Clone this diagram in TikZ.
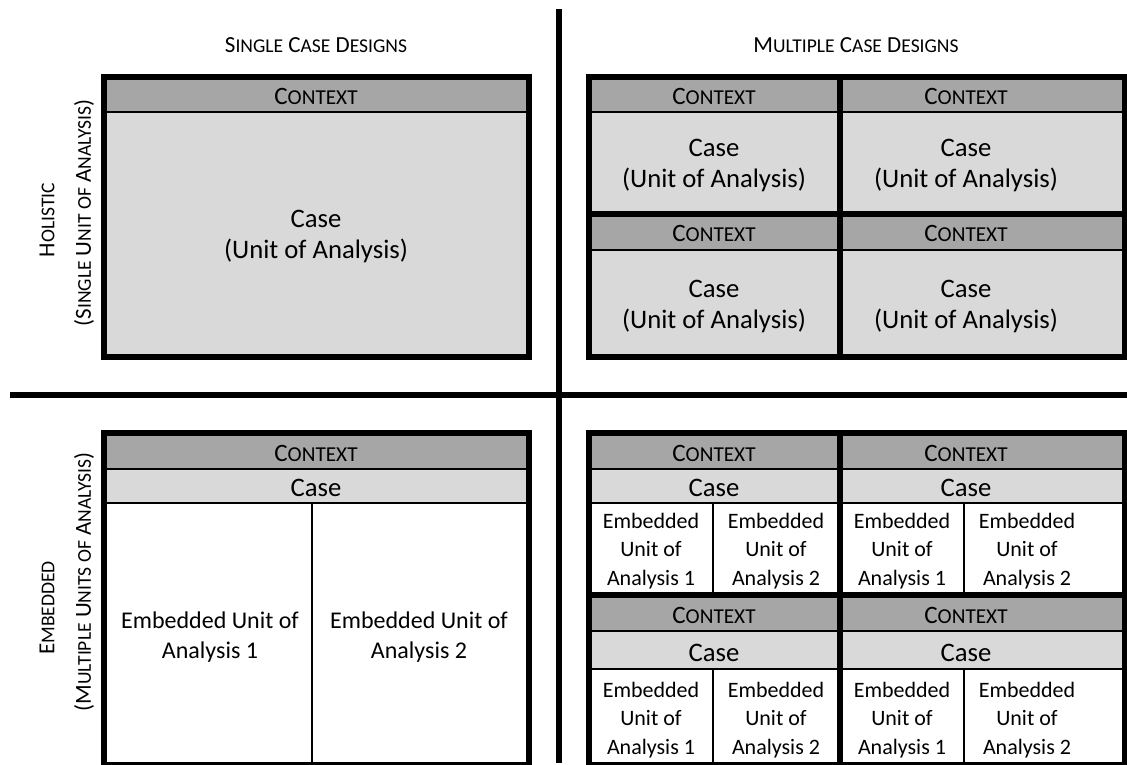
\documentclass[tikz,border=0pt]{standalone}
\usepackage{fontspec}
\setmainfont{Carlito}
\definecolor{ctxgray}{HTML}{A6A6A6}
\definecolor{casegray}{HTML}{D9D9D9}
\makeatletter
% faked small capitals: the rest of the word in smaller upper-case letters
\newcommand\lowcap[1]{{\fontsize{\the\dimexpr\f@size pt*85/100\relax}{\f@baselineskip}\selectfont #1}}
\makeatother
\tikzset{
  frame/.style={draw=black, line width=6pt},
  divider/.style={draw=black, line width=6pt},
  thin/.style={draw=black, line width=2pt},
  ctxfill/.style={fill=ctxgray},
  casefill/.style={fill=casegray},
  head/.style={font=\fontsize{23}{27}\selectfont, inner sep=0pt},
  side/.style={font=\fontsize{23}{27}\selectfont, inner sep=0pt, rotate=90},
  ctxtext/.style={font=\fontsize{25}{29}\selectfont, inner sep=0pt},
  casetext/.style={font=\fontsize{26.7}{31}\selectfont, inner sep=0pt, align=center},
  bigemb/.style={font=\fontsize{24}{30}\selectfont, inner sep=0pt, align=center},
  smallemb/.style={font=\fontsize{22}{28.5}\selectfont, inner sep=0pt, align=center},
}
\begin{document}
\begin{tikzpicture}[x=1pt, y=-1pt]
\useasboundingbox (0,0) rectangle (1127,765);

% ---------- quadrant dividers ----------
\coordinate (vtop) at (559,9);
\coordinate (vbot) at (559,763);
\coordinate (hleft) at (10,395);
\coordinate (hright) at (1127,395);
\draw[divider] (vtop) -- (vbot);
\draw[divider] (hleft) -- (hright);

% ---------- headers ----------
\node[head] (hsingle) at (316,45) {S\lowcap{INGLE} C\lowcap{ASE} D\lowcap{ESIGNS}};
\node[head] (hmultiple) at (856,45) {M\lowcap{ULTIPLE} C\lowcap{ASE} D\lowcap{ESIGNS}};
\node[side] (sholistic) at (47,220) {H\lowcap{OLISTIC}};
\node[side] (sholisticsub) at (84,213) {(S\lowcap{INGLE} U\lowcap{NIT OF} A\lowcap{NALYSIS})};
\node[side] (sembedded) at (47,608) {E\lowcap{MBEDDED}};
\node[side] (sembeddedsub) at (84,582) {(M\lowcap{ULTIPLE} U\lowcap{NITS OF} A\lowcap{NALYSIS})};

% ---------- holistic, single case ----------
\fill[ctxfill] (104,77) rectangle (529,112);
\fill[casefill] (104,112) rectangle (529,357);
\draw[thin] (107,112) -- (526,112);
\draw[frame] (104,77) rectangle (529,357);
\node[ctxtext] (c1) at (316,96) {C\lowcap{ONTEXT}};
\node[casetext] (u1) at (316,236) {Case\\(Unit of Analysis)};

% ---------- holistic, multiple cases ----------
\foreach \xa/\xb in {588.5/839.5, 839.5/1125}{
  \foreach \ya/\yb/\yc in {77/112/213.5, 213.5/250/357}{
    \fill[ctxfill] (\xa,\ya) rectangle (\xb,\yb);
    \fill[casefill] (\xa,\yb) rectangle (\xb,\yc);
    \draw[thin] (\xa,\yb) -- (\xb,\yb);
  }
}
\draw[frame] (588.5,77) rectangle (1125,357);
\draw[divider] (839.5,77) -- (839.5,357);
\draw[divider] (588.5,213.5) -- (1125,213.5);
\node[ctxtext] (c2) at (714,96) {C\lowcap{ONTEXT}};
\node[ctxtext] (c3) at (966,96) {C\lowcap{ONTEXT}};
\node[ctxtext] (c4) at (714,233.5) {C\lowcap{ONTEXT}};
\node[ctxtext] (c5) at (966,233.5) {C\lowcap{ONTEXT}};
\node[casetext] (u2) at (714,165) {Case\\(Unit of Analysis)};
\node[casetext] (u3) at (966,165) {Case\\(Unit of Analysis)};
\node[casetext] (u4) at (714,306) {Case\\(Unit of Analysis)};
\node[casetext] (u5) at (966,306) {Case\\(Unit of Analysis)};

% ---------- embedded, single case ----------
\fill[ctxfill] (104,433) rectangle (529,469);
\fill[casefill] (104,469) rectangle (529,503);
\draw[thin] (107,469) -- (526,469);
\draw[thin] (107,503) -- (526,503);
\draw[thin] (312,503) -- (312,762);
\draw[frame] (104,433) rectangle (529,765);
\node[ctxtext] (c6) at (316,453) {C\lowcap{ONTEXT}};
\node[casetext] (k6) at (316,488) {Case};
\node[bigemb] (e61) at (210,637) {Embedded Unit of\\Analysis 1};
\node[bigemb] (e62) at (419,637) {Embedded Unit of\\Analysis 2};

% ---------- embedded, multiple cases ----------
\foreach \xa/\xb/\xm in {588.5/839.5/713, 839.5/1125/964}{
  \foreach \ya/\yb/\yc/\yd in {433/469/503/595, 595/631/669/765}{
    \fill[ctxfill] (\xa,\ya) rectangle (\xb,\yb);
    \fill[casefill] (\xa,\yb) rectangle (\xb,\yc);
    \draw[thin] (\xa,\yb) -- (\xb,\yb);
    \draw[thin] (\xa,\yc) -- (\xb,\yc);
    \draw[thin] (\xm,\yc) -- (\xm,\yd);
  }
}
\draw[frame] (588.5,433) rectangle (1125,765);
\draw[divider] (839.5,433) -- (839.5,765);
\draw[divider] (588.5,595) -- (1125,595);

\node[ctxtext] (c7) at (714,453) {C\lowcap{ONTEXT}};
\node[ctxtext] (c8) at (966,453) {C\lowcap{ONTEXT}};
\node[ctxtext] (c9) at (714,615) {C\lowcap{ONTEXT}};
\node[ctxtext] (c10) at (966,615) {C\lowcap{ONTEXT}};
\node[casetext] (k7) at (714,488) {Case};
\node[casetext] (k8) at (966,488) {Case};
\node[casetext] (k9) at (714,653) {Case};
\node[casetext] (k10) at (966,653) {Case};

\node[smallemb] (e71) at (651,551) {Embedded\\Unit of\\Analysis 1};
\node[smallemb] (e72) at (776,551) {Embedded\\Unit of\\Analysis 2};
\node[smallemb] (e81) at (902,551) {Embedded\\Unit of\\Analysis 1};
\node[smallemb] (e82) at (1027,551) {Embedded\\Unit of\\Analysis 2};
\node[smallemb] (e91) at (651,720) {Embedded\\Unit of\\Analysis 1};
\node[smallemb] (e92) at (776,720) {Embedded\\Unit of\\Analysis 2};
\node[smallemb] (e101) at (902,720) {Embedded\\Unit of\\Analysis 1};
\node[smallemb] (e102) at (1027,720) {Embedded\\Unit of\\Analysis 2};
\end{tikzpicture}
\end{document}
